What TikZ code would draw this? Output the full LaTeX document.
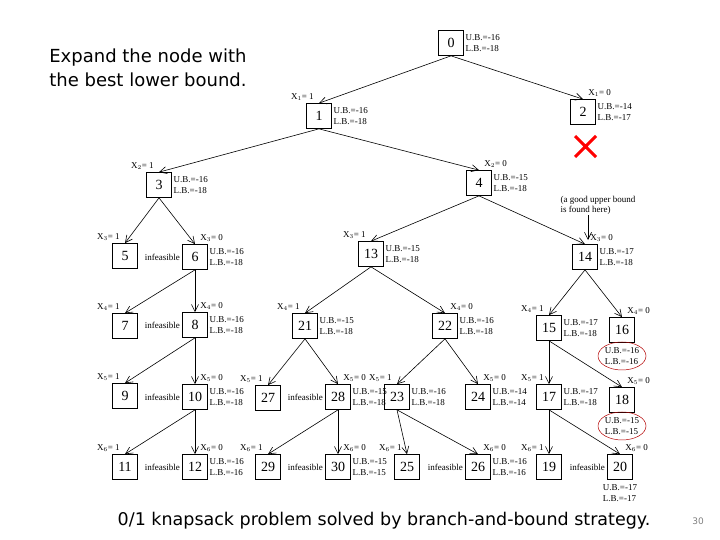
\documentclass[tikz,border=0pt]{standalone}
\usepackage{fontspec}
\setmainfont{Liberation Serif}
\newfontfamily\sans{DejaVu Sans}
\usetikzlibrary{shapes.geometric,arrows.meta}
\begin{document}
\begin{tikzpicture}[x=1pt,y=-1pt,line width=0.7pt,
  box/.style={draw,minimum size=25pt,inner sep=0pt,font=\fontsize{14}{14}\selectfont},
  bnd/.style={anchor=west,align=left,inner sep=1.5pt,font=\fontsize{9}{10.5}\selectfont},
  elab/.style={inner sep=1pt,font=\fontsize{9}{10}\selectfont},
  inf/.style={font=\fontsize{9}{10}\selectfont,inner sep=1pt},
  arr/.style={-{Straight Barb[length=7pt,width=7pt]},line width=0.6pt}]
\useasboundingbox (0,0) rectangle (720,540);
\node[font=\sans\fontsize{18}{24}\selectfont,align=left,anchor=north west,inner sep=0pt] (title) at (49,48) {Expand the node with\\the best lower bound.};
\node[font=\sans\fontsize{17.5}{19}\selectfont] (cap) at (384,521) {0/1 knapsack problem solved by branch-and-bound strategy.};
\node[font=\sans\fontsize{9}{10}\selectfont,text=gray] (pg) at (698,521) {30};
% boxes
\foreach \n/\x/\y in {0/451/43,1/319/116,2/583/112,3/159/185,4/479/183,5/125/256,6/195/257,13/371/254,14/585/257,
  7/125/326,8/195/325,21/305/326,22/445/326,15/549/328,16/622/330,
  9/125/396,10/195/397,27/268/398,28/338/397,23/397/397,24/478/397,17/549/397,18/622/400,
  11/125/467,12/195/467,29/268/467,30/338/467,25/407/467,26/478/467,19/549/467,20/620/467}
  \node[box] (n\n) at (\x,\y) {\n};
% bounds to the right
\foreach \n/\u/\l in {0/16/18,1/16/18,2/14/17,3/16/18,4/15/18,6/16/18,13/15/18,14/17/18,8/16/18,21/15/18,22/16/18,15/17/18,
  10/16/18,28/15/18,23/16/18,24/14/14,17/17/18,12/16/16,30/15/15,26/16/16}
  \node[bnd] (b\n) at (n\n.east) {U.B.=-\u\\L.B.=-\l};
\foreach \n/\u/\l in {16/16/16,18/15/15,20/17/17}
  \node[bnd,anchor=north] (b\n) at ([yshift=-3pt]n\n.south) {U.B.=-\u\\L.B.=-\l};
\draw[red!70!black,line width=0.5pt] (b16) ellipse (24pt and 14pt);
\draw[red!70!black,line width=0.5pt] (b18) ellipse (24pt and 14pt);
% infeasible
\foreach \n in {6,8,10,12,28,30,26,20}
  \node[inf,anchor=east] (i\n) at ([xshift=-1pt]n\n.west) {infeasible};
% edges
\foreach \p/\a/\b/\i in {0/1/2/1,1/3/4/2,3/5/6/3,4/13/14/3,6/7/8/4,13/21/22/4,14/15/16/4,
  8/9/10/5,21/27/28/5,22/23/24/5,15/17/18/5,10/11/12/6,28/29/30/6,23/25/26/6,17/19/20/6}{
  \draw[arr] (n\p.south) -- (n\a.north);
  \draw[arr] (n\p.south) -- (n\b.north);
  \node[elab,anchor=south east] (l\a) at ([xshift=-4pt,yshift=1pt]n\a.north) {X$_{\i}$= 1};
  \node[elab,anchor=south west] (l\b) at ([xshift=4pt,yshift=1pt]n\b.north) {X$_{\i}$= 0};
}
% annotation
\node[elab,align=left] (note) at (598,205) {(a good upper bound\\is found here)};
\coordinate (tip) at (588,240);
\draw[arr] (note.south -| tip) -- (tip);
\coordinate (c1) at (575,136); \coordinate (c2) at (596,157);
\coordinate (c3) at (596,136); \coordinate (c4) at (575,157);
\draw[red,line width=3pt] (c1) -- (c2) (c3) -- (c4);
\end{tikzpicture}
\end{document}
